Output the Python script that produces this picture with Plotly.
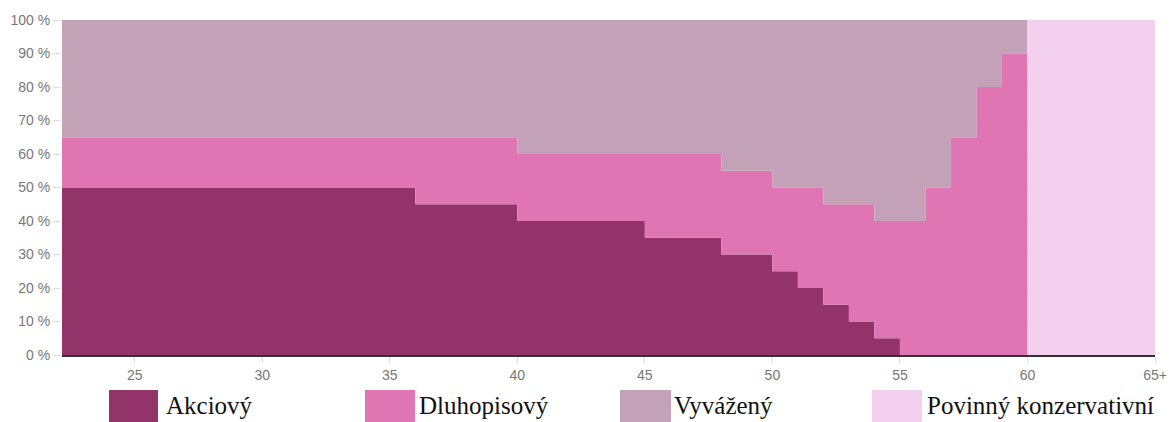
import plotly.graph_objects as go

# age breakpoints (step start), value holds until next breakpoint
ages = [22, 36, 40, 45, 48, 50, 51, 52, 53, 54, 55, 56, 57, 58, 59, 60, 65]

akciovy = [50, 45, 40, 35, 30, 25, 20, 15, 10, 5, 0, 0, 0, 0, 0, 0, 0]
dluhopisovy = [15, 20, 20, 25, 25, 25, 30, 30, 35, 35, 40, 50, 65, 80, 90, 0, 0]
vyvazeny = [35, 35, 40, 40, 45, 50, 50, 55, 55, 60, 60, 50, 35, 20, 10, 0, 0]
povinny = [0, 0, 0, 0, 0, 0, 0, 0, 0, 0, 0, 0, 0, 0, 0, 100, 100]

names = ["Akciový", "Dluhopisový", "Vyvážený", "Povinný konzervativní"]
colors = ["#92336A", "#E075B4", "#C3A1B7", "#F2D0EE"]

x_tickvals = [25, 30, 35, 40, 45, 50, 55, 60, 65]
x_ticktext = ["25", "30", "35", "40", "45", "50", "55", "60", "65+"]
y_tickvals = [0, 10, 20, 30, 40, 50, 60, 70, 80, 90, 100]
y_ticktext = ["0 %", "10 %", "20 %", "30 %", "40 %", "50 %",
              "60 %", "70 %", "80 %", "90 %", "100 %"]

W, H = 1171, 422
L, R, T, B = 62, 16, 20, 67

fig = go.Figure()
for name, vals, col in zip(names, [akciovy, dluhopisovy, vyvazeny, povinny], colors):
    fig.add_trace(go.Scatter(x=ages, y=vals, name=name, stackgroup="one",
                             mode="lines", line=dict(width=0, shape="hv", color=col),
                             fillcolor=col, showlegend=False, hoverinfo="skip"))


def px_x(px):
    # pixel -> paper
    return (px - L) / (W - L - R)


def px_y(py):
    return (H - B - py) / (H - T - B)


# hand made legend with large swatches
legend_pos = [(109, 158, 164), (365, 415, 417), (620, 671, 672), (872, 922, 925)]
for (x0, x1, tx), name, col in zip(legend_pos, names, colors):
    fig.add_shape(type="rect", xref="paper", yref="paper",
                  x0=px_x(x0), x1=px_x(x1), y0=px_y(390), y1=px_y(430),
                  fillcolor=col, line=dict(width=0), layer="above")
    fig.add_annotation(xref="paper", yref="paper", x=px_x(tx), y=px_y(405),
                       text=name, showarrow=False, xanchor="left", yanchor="middle",
                       font=dict(family="Liberation Serif", size=25, color="#111"))

fig.update_xaxes(range=[22.15, 65], tickvals=x_tickvals, ticktext=x_ticktext,
                 showgrid=False, zeroline=False, showline=True, linecolor="#333",
                 linewidth=2, ticks="outside", ticklen=6, tickcolor="#ddd",
                 tickfont=dict(family="Liberation Sans", size=14, color="#777"))
fig.update_yaxes(range=[0, 100], tickvals=y_tickvals, ticktext=y_ticktext,
                 showgrid=True, gridcolor="#eee", zeroline=False,
                 ticks="outside", ticklen=8, tickcolor="#ddd",
                 tickfont=dict(family="Liberation Sans", size=14, color="#777"))
fig.update_layout(width=W, height=H, margin=dict(l=L, r=R, t=T, b=B, autoexpand=False),
                  plot_bgcolor="white", paper_bgcolor="white")

# drop the default page margin so the figure sits at the window's corner
fig.write_html("out.html", config={"displayModeBar": False},
               post_script="document.body.style.margin='0';document.body.style.overflow='hidden';")
